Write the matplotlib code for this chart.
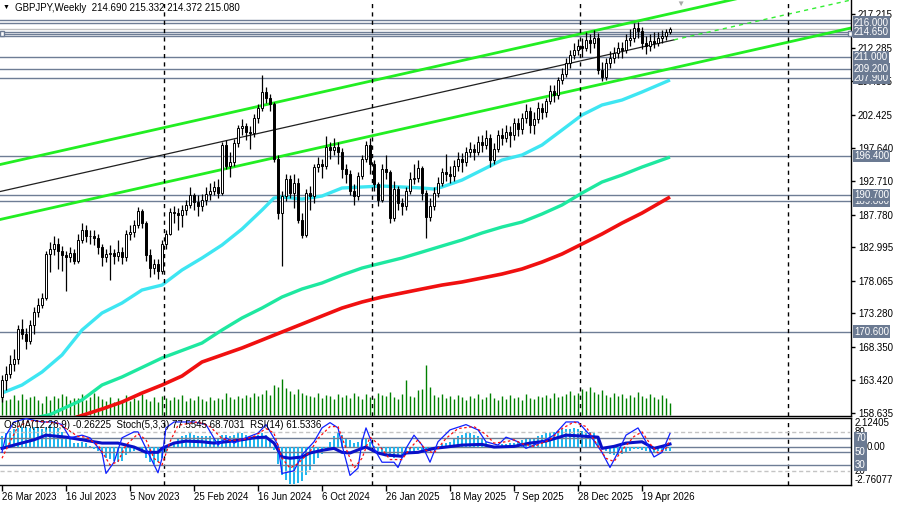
import matplotlib
matplotlib.use('Agg')
import matplotlib.pyplot as plt
from matplotlib.patches import Rectangle
import numpy as np

plt.rcParams['font.family'] = ['Liberation Sans', 'DejaVu Sans']

# ---------------- data ----------------
symbol_title = 'GBPJPY,Weekly  214.690 215.332 214.372 215.080'
ind_title = 'OsMA(12,26,9) -0.26225  Stoch(5,3,3) 77.5545 68.7031  RSI(14) 61.5336'

opens = [161.0, 163.5, 164.3, 165.8, 166.5, 171.0, 170.3, 169.2, 171.5, 173.5,
         174.5, 175.6, 182.0, 182.8, 183.5, 182.5, 181.8, 181.5, 182.2, 181.0,
         184.0, 185.6, 184.6, 184.6, 184.3, 183.0, 181.5, 182.0, 182.2, 181.7,
         182.3, 181.5, 185.0, 185.2, 186.2, 188.3, 186.5, 181.8, 180.0, 180.5,
         179.5, 183.5, 185.0, 188.2, 188.0, 187.8, 188.5, 189.2, 190.6, 189.6,
         189.0, 190.0, 190.8, 191.3, 191.8, 191.0, 198.0, 195.0, 195.5, 198.3,
         200.5, 200.8, 200.0, 199.8, 202.0, 203.4, 205.8, 205.0, 204.0, 196.0,
         188.0, 190.5, 193.0, 191.0, 192.5, 187.0, 184.8, 191.0, 190.5, 194.8,
         195.2, 195.0, 197.7, 197.3, 197.8, 197.0, 194.5, 193.8, 191.3, 190.5,
         193.5, 196.0, 198.0, 195.3, 192.3, 190.0, 194.5, 194.0, 187.3, 191.6,
         189.5, 189.0, 191.3, 193.0, 193.2, 194.6, 191.0, 187.5, 189.0, 191.0,
         192.5, 194.0, 193.8, 193.5, 195.0, 196.0, 195.5, 197.0, 197.5, 197.0,
         198.5, 198.0, 199.0, 195.8, 197.5, 199.5, 199.0, 200.0, 199.5, 201.2,
         200.3, 202.0, 203.0, 201.0, 201.8, 203.5, 202.8, 204.5, 206.0, 205.3,
         207.5, 208.5, 210.0, 211.3, 212.0, 212.5, 212.3, 213.5, 213.0, 213.8,
         209.0, 208.0, 210.0, 210.8, 211.5, 212.3, 212.0, 213.5, 213.8, 215.2,
         214.8, 213.0, 212.5, 213.3, 213.0, 213.8, 214.0, 214.69]
closes = [163.5, 164.3, 165.8, 166.5, 171.0, 170.3, 169.2, 171.5, 173.5, 174.5,
          175.6, 182.0, 182.8, 183.5, 182.5, 181.8, 181.5, 182.2, 181.0, 184.0,
          185.6, 184.6, 184.6, 184.3, 183.0, 181.5, 182.0, 182.2, 181.7, 182.3,
          181.5, 185.0, 185.2, 186.2, 188.3, 186.5, 181.8, 180.0, 180.5, 179.5,
          183.5, 185.0, 188.2, 188.0, 187.8, 188.5, 189.2, 190.6, 189.6, 189.0,
          190.0, 190.8, 191.3, 191.8, 191.0, 198.0, 195.0, 195.5, 198.3, 200.5,
          200.8, 200.0, 199.8, 202.0, 203.4, 205.8, 205.0, 204.0, 196.0, 188.0,
          190.5, 193.0, 191.0, 192.5, 187.0, 184.8, 191.0, 190.5, 194.8, 195.2,
          195.0, 197.7, 197.3, 197.8, 197.0, 194.5, 193.8, 191.3, 190.5, 193.5,
          196.0, 198.0, 195.3, 192.3, 190.0, 194.5, 194.0, 187.3, 191.6, 189.5,
          189.0, 191.3, 193.0, 193.2, 194.6, 191.0, 187.5, 189.0, 191.0, 192.5,
          194.0, 193.8, 193.5, 195.0, 196.0, 195.5, 197.0, 197.5, 197.0, 198.5,
          198.0, 199.0, 195.8, 197.5, 199.5, 199.0, 200.0, 199.5, 201.2, 200.3,
          202.0, 203.0, 201.0, 201.8, 203.5, 202.8, 204.5, 206.0, 205.3, 207.5,
          208.5, 210.0, 211.3, 212.0, 212.5, 212.3, 213.5, 213.0, 213.8, 209.0,
          208.0, 210.0, 210.8, 211.5, 212.3, 212.0, 213.5, 213.8, 215.2, 214.8,
          213.0, 212.5, 213.3, 213.0, 213.8, 214.0, 214.69, 215.08]
highs = [164.2, 165.5, 167.2, 168.0, 171.6, 172.5, 171.2, 172.3, 174.2, 175.5,
         176.3, 182.5, 183.8, 184.6, 184.3, 183.2, 182.5, 183.0, 182.8, 185.0,
         186.6, 186.3, 185.6, 185.5, 185.0, 183.5, 182.8, 183.3, 182.8, 184.0,
         183.0, 185.5, 186.2, 187.0, 188.9, 188.6, 186.8, 182.8, 181.3, 181.2,
         184.0, 185.5, 188.8, 189.0, 188.7, 189.2, 189.9, 191.8, 191.0, 190.6,
         190.8, 191.8, 192.5, 192.8, 193.0, 198.5, 198.8, 197.0, 198.9, 201.0,
         201.8, 201.3, 200.8, 202.6, 204.0, 208.3, 206.6, 205.5, 204.4, 196.5,
         191.2, 193.8, 193.6, 193.8, 193.2, 188.0, 191.6, 192.0, 195.3, 196.3,
         196.0, 199.3, 198.5, 199.0, 198.5, 197.6, 195.2, 194.3, 192.3, 194.0,
         196.5, 198.6, 199.0, 195.8, 192.6, 195.2, 196.6, 194.3, 192.8, 192.0,
         190.3, 191.8, 194.0, 195.3, 195.8, 195.0, 191.4, 190.3, 191.8, 193.3,
         194.6, 196.7, 195.0, 195.8, 197.0, 196.8, 197.8, 198.5, 198.2, 199.3,
         199.5, 200.2, 199.6, 198.3, 200.2, 200.5, 201.0, 200.8, 202.0, 202.0,
         202.7, 204.0, 203.6, 202.8, 204.3, 204.2, 205.0, 206.8, 206.9, 208.0,
         209.3, 210.8, 212.0, 213.0, 213.6, 213.8, 214.7, 214.3, 214.9, 214.5,
         210.2, 210.8, 211.9, 212.4, 213.1, 213.2, 214.3, 215.0, 216.0, 216.1,
         215.4, 214.0, 214.4, 214.6, 214.7, 214.9, 215.1, 215.332]
lows = [160.2, 162.0, 163.8, 164.8, 165.9, 169.5, 168.0, 168.8, 170.2, 172.8,
        174.0, 175.3, 179.3, 181.8, 179.8, 179.5, 176.5, 180.8, 180.5, 180.7,
        183.6, 183.8, 183.5, 183.3, 182.0, 180.3, 180.8, 178.2, 180.5, 181.0,
        180.5, 181.0, 184.0, 184.5, 185.8, 185.8, 181.0, 178.6, 179.0, 178.4,
        179.0, 182.8, 184.8, 186.5, 185.5, 185.9, 187.8, 188.8, 188.4, 187.6,
        188.3, 189.2, 190.0, 190.6, 190.2, 190.6, 194.5, 193.3, 195.0, 197.8,
        199.5, 198.8, 197.5, 199.2, 201.2, 203.0, 204.2, 203.0, 195.5, 187.2,
        180.2, 189.8, 190.2, 188.8, 186.5, 184.3, 184.5, 188.5, 189.5, 194.0,
        193.2, 194.5, 196.0, 196.6, 195.2, 193.2, 192.5, 190.6, 189.2, 190.0,
        193.0, 195.5, 193.8, 191.3, 189.0, 189.6, 193.0, 186.5, 186.9, 188.5,
        187.8, 188.4, 190.8, 192.3, 192.6, 190.0, 184.3, 186.8, 188.5, 190.4,
        192.0, 192.8, 192.5, 192.8, 194.2, 194.0, 195.0, 196.2, 195.8, 196.6,
        197.0, 197.4, 194.8, 195.2, 197.0, 198.0, 198.4, 197.8, 198.8, 199.3,
        199.6, 201.2, 199.8, 199.6, 201.2, 201.8, 202.2, 204.0, 204.3, 204.8,
        207.0, 208.0, 209.4, 210.6, 211.2, 211.0, 211.8, 211.5, 212.3, 208.5,
        207.4, 207.5, 209.4, 210.0, 210.8, 210.8, 211.6, 212.6, 213.2, 213.8,
        212.2, 211.4, 211.8, 212.3, 212.6, 213.0, 213.5, 214.372]
volumes = [18, 15, 16, 20, 15, 21, 16, 18, 19, 15, 12, 19, 15, 19, 17, 21, 19, 15, 17, 17,
           21, 15, 18, 22, 19, 16, 14, 18, 13, 17, 15, 20, 14, 17, 15, 21, 16, 14, 18, 13,
           19, 17, 15, 18, 16, 20, 14, 17, 15, 19, 16, 14, 18, 15, 17, 16, 22, 18, 16, 19,
           17, 20, 18, 22, 19, 21, 25, 20, 30, 28, 36, 27, 24, 21, 26, 22, 20, 19, 18, 22,
           17, 20, 19, 16, 21, 18, 20, 17, 22, 19, 16, 21, 18, 17, 22, 20, 19, 23, 18, 16,
           21, 35, 19, 18, 25, 26, 50, 28, 20, 18, 21, 17, 19, 16, 20, 18, 15, 19, 17, 21,
           16, 18, 22, 17, 15, 19, 16, 20, 17, 18, 15, 21, 17, 16, 19, 18, 20, 17, 22, 18,
           19, 21, 24, 20, 22, 26, 24, 28, 23, 21, 25, 20, 18, 22, 19, 21, 17, 20, 18, 23,
           19, 17, 21, 18, 16, 20, 17, 12]

# moving averages (bar index, value)
ma50_idx = [0, 5, 10, 15, 20, 25, 30, 35, 40, 45, 50, 55, 60, 65, 68, 70, 75, 80, 85, 90,
            95, 100, 105, 108, 110, 115, 120, 125, 130, 135, 140, 145, 150, 155, 160, 167]
ma50_val = [161.57, 162.75, 164.66, 167.16, 170.83, 173.33, 174.80, 176.71, 177.44, 179.65,
            181.41, 183.32, 185.67, 188.46, 190.23, 190.38, 190.08, 190.52, 191.70, 191.85,
            191.99, 191.85, 191.70, 191.55, 191.85, 192.87, 194.34, 195.81, 196.55, 198.02,
            200.22, 202.43, 203.90, 204.63, 205.81, 207.57]
ma144_idx = [8, 12, 20, 25, 30, 40, 50, 55, 60, 65, 70, 75, 80, 85, 90, 95, 100, 105, 110,
             115, 120, 125, 130, 135, 140, 145, 150, 155, 160, 167]
ma144_val = [157.9, 158.4, 160.55, 162.75, 163.93, 166.72, 168.92, 170.83, 172.60, 174.06,
             175.68, 176.86, 177.74, 178.91, 179.94, 180.68, 181.41, 182.29, 183.18, 184.06,
             185.09, 185.97, 186.70, 187.88, 189.20, 190.96, 192.58, 193.61, 194.78, 196.25]
ma200_idx = [18, 25, 30, 35, 40, 45, 50, 55, 60, 65, 70, 75, 80, 85, 90, 95, 100, 105, 110,
             115, 120, 125, 130, 135, 140, 145, 150, 155, 160, 167]
ma200_val = [157.9, 159.22, 160.25, 161.57, 162.75, 164.07, 166.13, 167.16, 168.19, 169.36,
             170.54, 171.71, 172.89, 174.06, 174.95, 175.68, 176.27, 176.86, 177.44, 177.89,
             178.47, 179.06, 179.80, 180.82, 182.00, 183.47, 184.94, 186.55, 188.02, 190.38]

# trend channel (start bar, start price, price change per bar)
channel_top = (-0.5, 195.15, 0.1323)
channel_mid = (-0.5, 191.18, 0.1323)
channel_low = (-0.5, 187.07, 0.1323)

# horizontal levels: (price, shows a label box); later boxes are drawn on top
level_lines = [216.45, 214.4, 214.1, 170.6, 189.8, 190.7, 196.4, 207.9, 209.2, 211.0, 216.0, 214.65]
level_boxed = [False, False, False, True, True, True, True, True, True, True, True, True]
bid_price = 215.08

price_ticks = [158.635, 163.420, 168.350, 173.280, 178.065, 182.995, 187.780, 192.710,
               197.640, 202.425, 207.355, 212.285, 217.215]

date_idx = [0, 16, 32, 48, 64, 80, 96, 112, 128, 144, 160]
date_labels = ['26 Mar 2023', '16 Jul 2023', '5 Nov 2023', '25 Feb 2024', '16 Jun 2024',
               '6 Oct 2024', '26 Jan 2025', '18 May 2025', '7 Sep 2025', '28 Dec 2025',
               '19 Apr 2026']
year_sep_idx = [40.5, 92.5, 144.5, 196.5]

osma = [0.8, 1.0, 1.2, 1.3, 1.4, 1.5, 1.5, 1.4, 1.5, 1.5,
        1.3, 1.5, 1.6, 1.5, 1.4, 1.1, 0.8, 0.6, 0.3, 0.3,
        0.4, 0.3, 0.1, -0.1, -0.3, -0.5, -0.8, -0.9, -1.0, -1.1,
        -1.0, -0.6, -0.4, -0.3, -0.2, -0.4, -0.8, -1.1, -1.2, -1.1,
        -0.8, -0.4, 0.0, 0.4, 0.6, 0.8, 0.9, 1.0, 0.9, 0.8,
        0.8, 0.8, 0.8, 0.7, 0.6, 0.9, 0.9, 0.8, 0.9, 1.0,
        1.0, 0.9, 0.8, 0.8, 0.9, 1.0, 0.9, 0.6, -0.2, -1.2,
        -2.0, -2.4, -2.7, -2.7, -2.6, -2.5, -2.0, -1.7, -1.2, -0.8,
        -0.5, -0.1, 0.4, 0.8, 1.0, 0.9, 0.7, 0.5, 0.3, 0.4,
        0.6, 0.7, 0.4, 0.1, -0.3, -0.4, -0.5, -0.7, -0.8, -0.7,
        -0.6, -0.5, -0.4, -0.3, -0.2, -0.3, -0.4, -0.3, -0.1, 0.1,
        0.2, 0.3, 0.4, 0.6, 0.8, 0.9, 1.0, 1.0, 0.9, 0.8,
        0.6, 0.4, 0.1, 0.0, 0.1, 0.2, 0.2, 0.3, 0.3, 0.4,
        0.5, 0.6, 0.6, 0.7, 0.8, 0.9, 1.0, 1.1, 1.1, 1.2,
        1.3, 1.3, 1.3, 1.4, 1.3, 1.2, 1.2, 1.1, 1.0, 0.6,
        0.0, -0.3, -0.5, -0.6, -0.6, -0.5, -0.4, -0.3, -0.1, -0.1,
        -0.2, -0.3, -0.4, -0.4, -0.3, -0.3, -0.3, -0.26225]

stoch_idx = [0, 1, 3, 6, 10, 13, 15, 17, 20, 22, 25, 26, 28, 30, 33, 34, 36, 39, 40, 41,
             43, 48, 51, 54, 56, 58, 61, 64, 66, 69, 70, 73, 75, 78, 80, 82, 84, 85, 87, 89,
             90, 91, 93, 95, 98, 99, 101, 103, 105, 107, 109, 112, 116, 119, 121, 124, 126, 129,
             131, 135, 138, 141, 144, 147, 150, 152, 154, 156, 159, 161, 163, 165, 167]
stoch_main = [49, 75, 95, 100, 95, 95, 91, 71, 75, 71, 49, 17, 34, 71, 80, 80, 55, 18, 40, 86,
              95, 95, 91, 60, 71, 63, 71, 78, 91, 60, 17, 21, 45, 65, 86, 94, 86, 60, 14, 25,
              65, 86, 55, 34, 34, 26, 55, 75, 60, 34, 65, 83, 91, 83, 65, 60, 72, 65,
              55, 65, 75, 95, 95, 75, 49, 26, 49, 75, 86, 65, 42, 49, 77.5545]
signal_idx = [0, 2, 4, 7, 11, 14, 16, 19, 21, 24, 27, 29, 31, 34, 36, 38, 40, 42, 44, 49,
              52, 55, 57, 60, 63, 66, 68, 70, 72, 74, 77, 79, 82, 84, 86, 88, 90, 92, 94, 97,
              100, 102, 104, 106, 108, 111, 114, 118, 121, 123, 126, 128, 130, 133, 137, 140,
              143, 146, 148, 151, 153, 155, 158, 160, 162, 164, 166, 167]
stoch_signal = [40, 65, 88, 97, 95, 93, 85, 73, 72, 60, 30, 35, 60, 77, 68, 40, 30, 65, 90, 95,
                88, 70, 67, 68, 73, 85, 78, 40, 25, 32, 50, 70, 88, 88, 55, 25, 40, 72, 62, 38,
                38, 55, 68, 52, 48, 70, 85, 88, 76, 63, 65, 68, 62, 58, 68, 85,
                95, 88, 68, 40, 35, 52, 73, 80, 62, 48, 55, 68.7031]
rsi_idx = [0, 3, 8, 11, 16, 20, 25, 29, 33, 36, 39, 40, 43, 46, 50, 53, 56, 60, 63, 66,
           68, 70, 72, 75, 77, 80, 83, 85, 87, 90, 91, 94, 96, 100, 101, 104, 108, 111, 115, 120,
           123, 128, 132, 136, 141, 144, 149, 150, 153, 156, 160, 163, 165, 167]
rsi_val = [55, 60, 68, 75, 72, 68, 63, 63, 57, 49, 49, 55, 63, 66, 65, 63, 65, 68, 71, 72,
           63, 42, 40, 42, 48, 52, 55, 49, 48, 55, 57, 48, 45, 43, 48, 49, 55, 57, 60, 61,
           57, 58, 63, 66, 75, 74, 72, 55, 58, 63, 65, 55, 58, 61.5336]

# ---------------- figure ----------------
W, H = 897, 505
fig = plt.figure(figsize=(W / 100, H / 100), dpi=100)
fig.patch.set_facecolor('white')

def fx(px):
    return px / W

def fy(py):
    return 1 - py / H

AX_R = 851
ax = fig.add_axes([0, fy(416), fx(AX_R), 416 / H])
axi = fig.add_axes([0, fy(485), fx(AX_R), (485 - 418) / H])

XMIN, XMAX = -0.5, 212.25
YMIN, YMAX = 158.194, 219.33
ax.set_xlim(XMIN, XMAX)
ax.set_ylim(YMIN, YMAX)

LINE_C = '#6E7D95'
BOX_C = '#6B7A92'
FS = 7

idx = np.arange(len(closes))
o = np.array(opens); c = np.array(closes); h = np.array(highs); l = np.array(lows)

# volumes (1 unit = 1 pixel tall)
px_price = (YMAX - YMIN) / 416.0
vb = YMIN + 1.2 * px_price
ax.vlines(idx, vb, vb + np.array(volumes) * px_price, color='#008000', lw=1.0, zorder=1)

# horizontal levels
for lv in level_lines:
    ax.axhline(lv, color=LINE_C, lw=1.0, zorder=1.5)
ax.axhline(bid_price, color='#C0C0C0', lw=1.0, zorder=1.5)

# moving averages
ax.plot(ma200_idx, ma200_val, color='#F01010', lw=2.6, zorder=2, solid_capstyle='butt')
ax.plot(ma144_idx, ma144_val, color='#1EE8A0', lw=2.4, zorder=2, solid_capstyle='butt')
ax.plot(ma50_idx, ma50_val, color='#3EE6F2', lw=2.4, zorder=2, solid_capstyle='butt')

# channel
def chan(params, x0, x1):
    s, p, k = params
    xs = np.array([x0, x1])
    return xs, p + (xs - s) * k

xs, ys = chan(channel_top, XMIN, XMAX)
ax.plot(xs, ys, color='#22EE22', lw=2.0, zorder=2.2)
xs, ys = chan(channel_low, XMIN, XMAX)
ax.plot(xs, ys, color='#22EE22', lw=2.0, zorder=2.2)
xs, ys = chan(channel_mid, XMIN, 168)
ax.plot(xs, ys, color='#202020', lw=0.9, zorder=2.2)
xs, ys = chan(channel_mid, 168, XMAX)
ax.plot(xs, ys, color='#33EE33', lw=1.0, ls=(0, (3, 3)), zorder=2.2)

# candles
ax.vlines(idx, l, h, color='black', lw=0.9, zorder=3)
up = c >= o
body_lo = np.minimum(o, c)
body_h = np.maximum(np.abs(c - o), 0.08)
ax.bar(idx[up], body_h[up], bottom=body_lo[up], width=0.55, color='white',
       edgecolor='black', linewidth=0.7, zorder=4)
ax.bar(idx[~up], body_h[~up], bottom=body_lo[~up], width=0.55, color='black',
       edgecolor='black', linewidth=0.7, zorder=4)

# year separators
for xs_ in year_sep_idx:
    ax.axvline(xs_, color='black', lw=1.0, ls=(0, (3, 3)), zorder=5)
    axi.axvline(xs_, color='black', lw=1.0, ls=(0, (3, 3)), zorder=5)

# axis styling main
ax.yaxis.tick_right()
ax.set_yticks(price_ticks)
ax.set_yticklabels([f'{t:.3f}' for t in price_ticks])
ax.tick_params(axis='y', direction='out', length=3, width=1, pad=2, labelsize=FS, colors='black')
ax.set_xticks([])
for sp in ['top', 'left']:
    ax.spines[sp].set_visible(False)
ax.spines['right'].set_linewidth(1.0)
ax.spines['bottom'].set_linewidth(1.0)

# right label boxes (drawn in list order: later ones on top)
ytr = ax.get_yaxis_transform()
for lv, boxed in zip(level_lines, level_boxed):
    if not boxed:
        continue
    ax.text(1.0 + 3 / AX_R, lv, f'{lv:.3f}', transform=ytr, fontsize=FS, color='white',
            ha='left', va='center', clip_on=False, zorder=20,
            bbox=dict(boxstyle='square,pad=0.12', fc=BOX_C, ec='none'))

# ---------------- indicator panel ----------------
axi.set_xlim(XMIN, XMAX)
axi.set_ylim(-2.76077, 2.12405)
axi.bar(idx, osma, width=0.7, color='#23B7EE', zorder=2)
axi.axhline(0, color=LINE_C, lw=1.0, zorder=1)
axi.set_yticks([])
axi.spines['left'].set_visible(False)
for sp in axi.spines.values():
    sp.set_linewidth(1.0)
axi.set_xticks(date_idx)
axi.set_xticklabels(date_labels, ha='left')
axi.tick_params(axis='x', direction='out', length=4, width=1, pad=1, labelsize=FS)

axs = axi.twinx()
axs.set_xlim(XMIN, XMAX)
axs.set_ylim(-0.5, 101)
axs.set_yticks([])
for sp in axs.spines.values():
    sp.set_visible(False)
for lv in (80, 20):
    axs.axhline(lv, color='#C4C4C4', lw=1.0, ls=(0, (3, 2)), zorder=1)
for lv in (70, 50, 30):
    axs.axhline(lv, color=LINE_C, lw=1.0, zorder=1)
axs.plot(rsi_idx, rsi_val, color='#0A10C8', lw=2.2, zorder=3)
axs.plot(stoch_idx, stoch_main, color='#1020FF', lw=0.9, zorder=4)
axs.plot(signal_idx, stoch_signal, color='#FF1010', lw=0.9, ls=(0, (2, 2)), zorder=4)

# indicator right labels
str_ = axs.get_yaxis_transform()
otr = axi.get_yaxis_transform()
xl = 1.0 + 4 / AX_R
axi.text(xl, 2.12405, '2.12405', transform=otr, fontsize=FS, va='top', ha='left', clip_on=False)
axi.text(xl, -2.76077, '-2.76077', transform=otr, fontsize=FS, va='bottom', ha='left', clip_on=False)
axi.text(xl + 12 / AX_R, 0, '0.00', transform=otr, fontsize=FS, va='center', ha='left', clip_on=False)
axs.text(xl, 80, '80', transform=str_, fontsize=FS, va='center', ha='left', clip_on=False)
axs.text(xl, 20, '20', transform=str_, fontsize=FS, va='center', ha='left', clip_on=False)
for lv in (70, 50, 30):
    axs.text(xl, lv, str(lv), transform=str_, fontsize=FS, va='center', ha='left', color='white',
             clip_on=False, zorder=20, bbox=dict(boxstyle='square,pad=0.15', fc=BOX_C, ec='none'))

# ---------------- titles ----------------
fig.text(fx(3), fy(7.5), '\u25BC', fontsize=5, va='center', ha='left', color='black')
fig.text(fx(15), fy(8), symbol_title, fontsize=FS, va='center', ha='left')
fig.text(fx(4), fy(425.5), ind_title, fontsize=FS, va='center', ha='left')
fig.text(fx(676), fy(4), '\u25BC', fontsize=6, va='center', ha='left', color='#A8A8A8')

# anchor squares of the selected level
for px in (0, 848):
    fig.patches.append(Rectangle((fx(px), fy(35.5)), fx(4), 5 / H, transform=fig.transFigure,
                                 fc='white', ec='#6E7D95', lw=1))

fig.savefig('out.png', dpi=100)
